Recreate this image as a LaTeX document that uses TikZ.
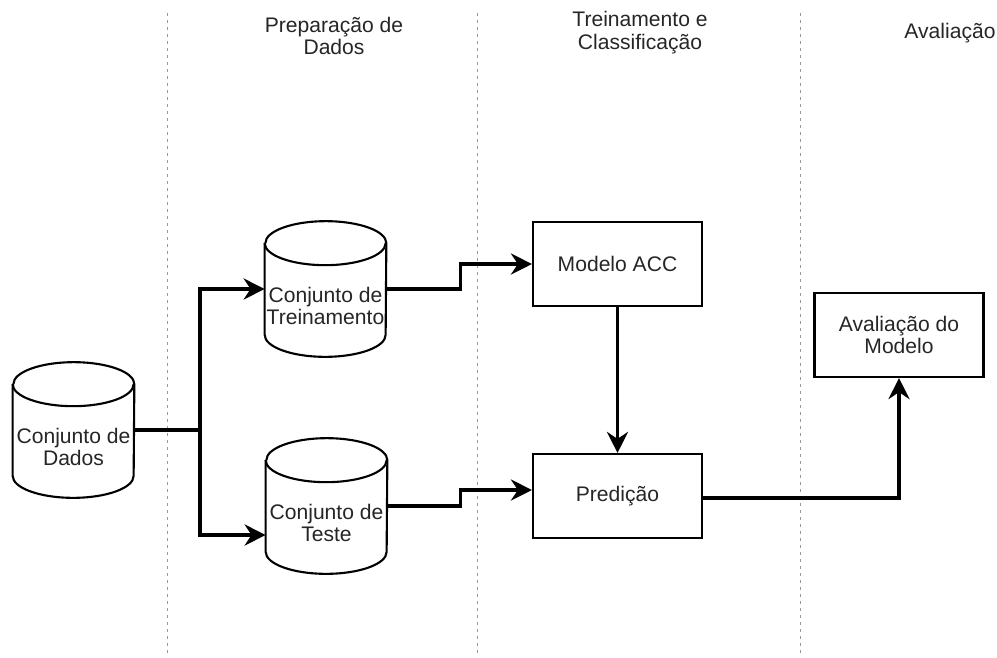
\documentclass[tikz,border=0pt]{standalone}
\usepackage{fontspec}
\setmainfont{Liberation Sans}
\usepackage{tikz}
\usetikzlibrary{shapes,arrows.meta,positioning,calc}
\usepackage{xcolor}

\begin{document}
\begin{tikzpicture}[x=0.02cm,y=0.02cm,
        every node/.style={font=\fontsize{12}{13}\selectfont,text=black!85},
        lane/.style={gray!80,line width=0.5pt,dash pattern=on 0.06cm off 0.08cm},
        caixa/.style={draw,line width=1.2pt,minimum width=3.38cm,minimum height=1.68cm,align=center},
        cil/.style={minimum width=2.42cm,minimum height=2.7cm,inner sep=0pt},
        seta/.style={line width=1.8pt,-{Stealth[length=12pt,width=12pt,inset=4pt]}},
        linha/.style={line width=1.8pt}]
    \useasboundingbox (0,0) rectangle (997,-657);
    % faixas
    \foreach \x in {167,477,800} {
        \draw[lane] (\x,-13) -- (\x,-654);
    }
    \node[align=center] (prep) at (334,-36) {Preparação de\\Dados};
    \node[align=center] (trein) at (640,-33) {Treinamento e\\Classificação};
    \node (aval) at (950,-33) {Avaliação};
    % bancos de dados
    \node[cil] (dados) at (73.5,-430) {};
    \node[cil] (treino) at (325.5,-289) {};
    \node[cil] (teste) at (326.5,-506) {};
    \foreach \c in {dados,treino,teste} {
        \draw[line width=1.2pt,fill=white]
            ($(\c.north west)+(0,-22)$) -- ($(\c.south west)+(0,22)$)
            arc[start angle=180,end angle=360,x radius=1.21cm,y radius=0.44cm]
            -- ($(\c.north east)+(0,-22)$)
            arc[start angle=0,end angle=180,x radius=1.21cm,y radius=0.44cm];
        \draw[line width=1.2pt] ($(\c.north west)+(0,-22)$)
            arc[start angle=180,end angle=360,x radius=1.21cm,y radius=0.44cm];
    }
    \node[align=center] (dadostxt) at ($(dados)+(0,-17)$) {Conjunto de\\Dados};
    \node[align=center] (treinotxt) at ($(treino)+(0,-17)$) {Conjunto de\\Treinamento};
    \node[align=center] (testetxt) at ($(teste)+(0,-17)$) {Conjunto de\\Teste};
    % processos
    \node[caixa] (modelo) at (617.5,-264) {Modelo ACC};
    \node[caixa] (pred) at (617.5,-496) {Predição};
    \node[caixa] (avalm) at (899,-335) {Avaliação do\\Modelo};
    % ligacoes
    \draw[linha] (dados.east) -- (200,-430) coordinate (split);
    \draw[seta] (split) |- (treino.west);
    \draw[seta] (split) |- ([yshift=-0.58cm]teste.west);
    \draw[seta] (treino.east) -- ++(74,0) |- (modelo.west);
    \draw[seta] (teste.east) -- ++(73,0) |- ([yshift=0.12cm]pred.west);
    \draw[seta] (modelo.south) -- (pred.north);
    \draw[seta] ([yshift=-0.04cm]pred.east) -| (avalm.south);
\end{tikzpicture}
\end{document}
